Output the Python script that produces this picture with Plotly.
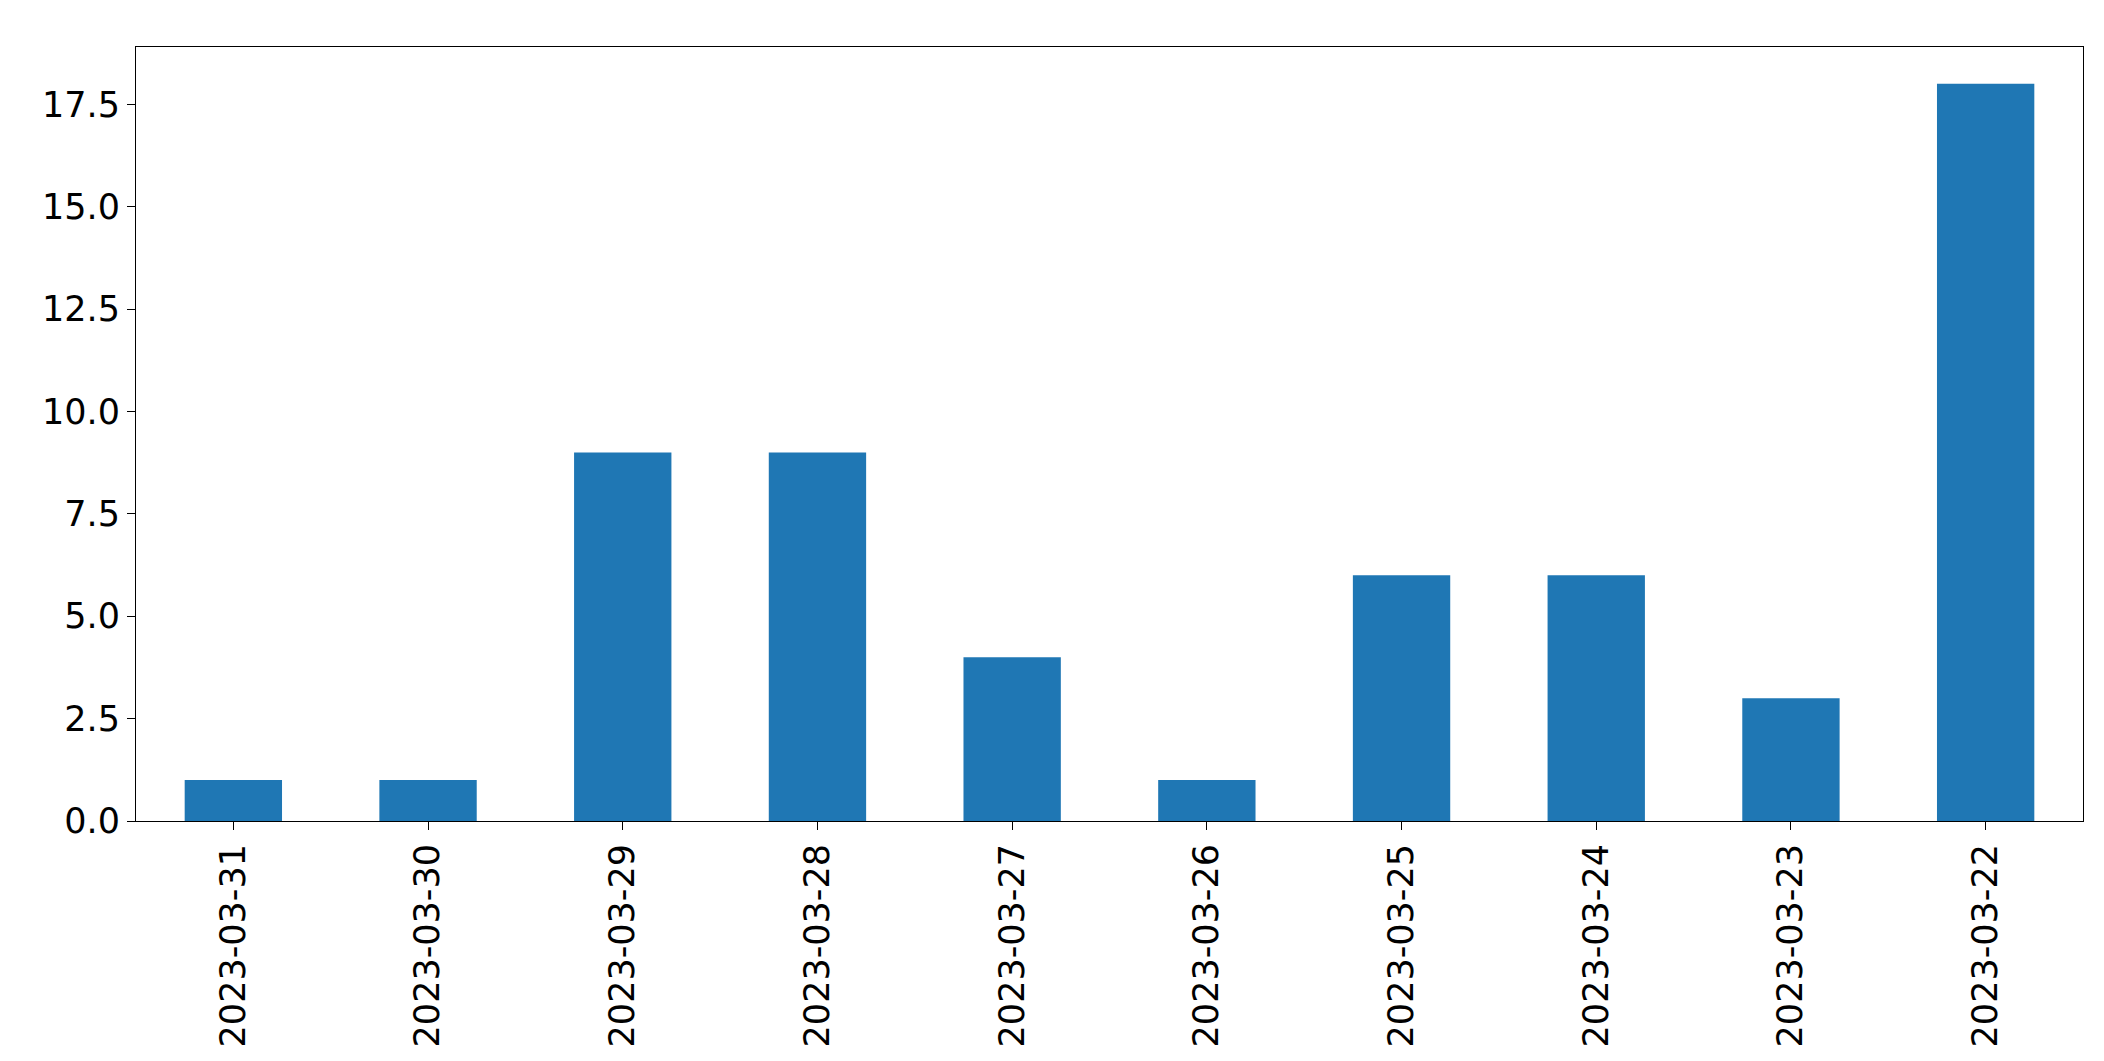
import plotly.graph_objects as go

dates = ["2023-03-31","2023-03-30","2023-03-29","2023-03-28","2023-03-27","2023-03-26","2023-03-25","2023-03-24","2023-03-23","2023-03-22"]
counts = [1,1,9,9,4,1,6,6,3,18]

fig = go.Figure(go.Bar(x=dates, y=counts, width=0.5, marker_color="#1f77b4", marker_line_width=0))
fig.update_layout(
    width=2104, height=1061, plot_bgcolor="white", paper_bgcolor="white",
    margin=dict(l=128, r=2104-2075, t=39, b=1061-813), showlegend=False,
    font=dict(family="DejaVu Sans", size=35, color="black"),
)
fig.update_xaxes(type="category", range=[-0.5, 9.5], tickangle=-90, showline=True, linecolor="black",
                 mirror=True, ticks="outside", ticklen=8, tickcolor="black", showgrid=False)
fig.update_yaxes(range=[0, 18.9], tickvals=[0,2.5,5,7.5,10,12.5,15,17.5],
                 ticktext=["0.0","2.5","5.0","7.5","10.0","12.5","15.0","17.5"],
                 showline=True, linecolor="black", mirror=True, ticks="outside", ticklen=8,
                 tickcolor="black", showgrid=False, zeroline=False)
fig.write_html("out.html")
